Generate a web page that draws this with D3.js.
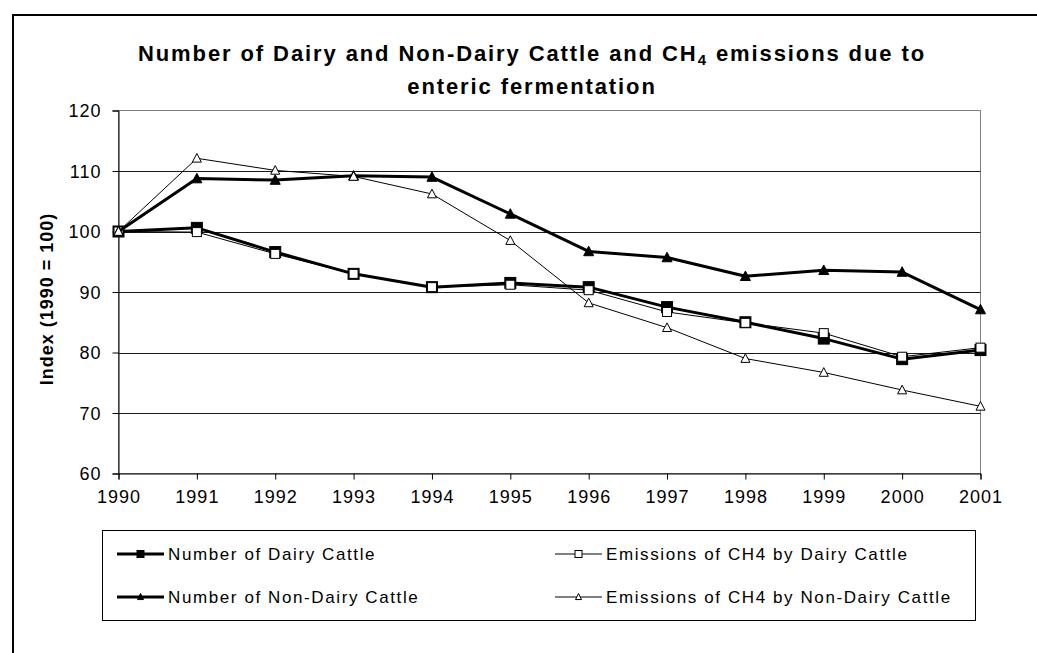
<!DOCTYPE html>
<html>
<head>
<meta charset="utf-8">
<script src="https://cdn.jsdelivr.net/npm/d3@7"></script>
<style>
  html, body { margin: 0; background: #fff; overflow: hidden; }
  svg { display: block; font-family: "Liberation Sans", Arial, sans-serif; overflow: hidden; }
</style>
</head>
<body>
<script>
// -- chart data --
var years = [1990, 1991, 1992, 1993, 1994, 1995, 1996, 1997, 1998, 1999, 2000, 2001];
var dairyNumber    = [100, 100.6, 96.6, 93.0, 90.8, 91.5, 90.8, 87.5, 85.0, 82.3, 78.9, 80.4];
var dairyEmissions = [100, 99.9, 96.3, 93.0, 90.8, 91.2, 90.3, 86.7, 84.9, 83.2, 79.3, 80.8];
var nonDairyNumber    = [100, 108.75, 108.5, 109.2, 109.0, 102.9, 96.7, 95.7, 92.6, 93.6, 93.3, 87.1];
var nonDairyEmissions = [100, 112.1, 110.1, 109.1, 106.2, 98.5, 88.2, 84.1, 79.0, 76.7, 73.8, 71.1];
var yTicks = [60, 70, 80, 90, 100, 110, 120];

var seriesNames = [
  "Number of Dairy Cattle",
  "Emissions of CH4 by Dairy Cattle",
  "Number of Non-Dairy Cattle",
  "Emissions of CH4 by Non-Dairy Cattle"
];

// series style table built from the arrays above
var series = [
  { name: seriesNames[0], values: dairyNumber,       width: 3, marker: "square",   fill: "#000" },
  { name: seriesNames[1], values: dairyEmissions,    width: 1, marker: "square",   fill: "#fff" },
  { name: seriesNames[2], values: nonDairyNumber,    width: 3, marker: "triangle", fill: "#000" },
  { name: seriesNames[3], values: nonDairyEmissions, width: 1, marker: "triangle", fill: "#fff" }
];

var W = 1037, H = 653;
var plot = { left: 118.5, right: 980.5, top: 110.5, bottom: 473.5 };

var svg = d3.select("body").append("svg")
  .attr("width", W)
  .attr("height", H);

// outer frame: only top and left edges show, the rest runs off the page
svg.append("path")
  .attr("d", "M13," + H + "V15H" + W)
  .attr("fill", "none")
  .attr("stroke", "#000")
  .attr("stroke-width", 2);

var x = d3.scalePoint().domain(years).range([plot.left, plot.right]);
var y = d3.scaleLinear().domain([60, 120]).range([plot.bottom, plot.top]);

// --- title ---
var title = svg.append("text")
  .attr("text-anchor", "middle")
  .attr("font-weight", "bold")
  .attr("font-size", 22)
  .attr("letter-spacing", 1.9);
var t1 = title.append("tspan").attr("x", 532).attr("y", 61);
t1.append("tspan").text("Number of Dairy and Non-Dairy Cattle and CH");
t1.append("tspan").attr("font-size", 15).attr("dy", 4).text("4");
t1.append("tspan").attr("dy", -4).text(" emissions due to");
title.append("tspan").attr("x", 532).attr("y", 94).text("enteric fermentation");

// --- plot area ---
svg.append("rect")
  .attr("x", plot.left).attr("y", plot.top)
  .attr("width", plot.right - plot.left)
  .attr("height", plot.bottom - plot.top)
  .attr("fill", "#fff")
  .attr("stroke", "#808080")
  .attr("stroke-width", 1);

// gridlines
svg.append("g")
  .selectAll("line")
  .data(yTicks.filter(function(d){ return d > 60 && d < 120; }))
  .enter().append("line")
    .attr("x1", plot.left).attr("x2", plot.right)
    .attr("y1", function(d){ return Math.round(y(d)) + 0.5; })
    .attr("y2", function(d){ return Math.round(y(d)) + 0.5; })
    .attr("stroke", "#1a1a1a")
    .attr("stroke-width", 1);

// axes
var yAxis = svg.append("g")
  .attr("transform", "translate(" + plot.left + ",0)")
  .call(d3.axisLeft(y).tickValues(yTicks).tickSize(6).tickPadding(11));
var xAxis = svg.append("g")
  .attr("transform", "translate(0," + plot.bottom + ")")
  .call(d3.axisBottom(x).tickSize(6).tickPadding(11));

[yAxis, xAxis].forEach(function(g){
  g.select(".domain").attr("stroke", "#000");
  g.selectAll(".tick line").attr("stroke", "#000");
  g.selectAll(".tick text")
    .attr("fill", "#000")
    .attr("font-family", "Liberation Sans, Arial, sans-serif")
    .attr("font-size", 18)
    .attr("letter-spacing", 1);
});
yAxis.selectAll(".tick text").attr("dy", "0.36em");
xAxis.selectAll(".tick text").attr("dy", "0.72em");

// y axis title
svg.append("text")
  .attr("transform", "translate(53,299) rotate(-90)")
  .attr("text-anchor", "middle")
  .attr("font-weight", "bold")
  .attr("font-size", 18)
  .attr("letter-spacing", 1)
  .text("Index (1990 = 100)");

// --- markers ---
function drawMarker(g, type, size, fill, w) {
  if (type === "square") {
    g.append("rect")
      .attr("x", -size / 2).attr("y", -size / 2)
      .attr("width", size).attr("height", size)
      .attr("fill", fill)
      .attr("stroke", "#000")
      .attr("stroke-width", w);
  } else {
    var h = size * 0.85;
    g.append("path")
      .attr("d", "M0," + (-h / 2 - 1) + "L" + (size / 2) + "," + (h / 2) + "L" + (-size / 2) + "," + (h / 2) + "Z")
      .attr("fill", fill)
      .attr("stroke", "#000")
      .attr("stroke-width", w);
  }
}

var line = d3.line()
  .x(function(d, i){ return x(years[i]); })
  .y(function(d){ return y(d); });

series.forEach(function(s){
  var g = svg.append("g");
  g.append("path")
    .datum(s.values)
    .attr("d", line)
    .attr("fill", "none")
    .attr("stroke", "#000")
    .attr("stroke-width", s.width)
    .attr("stroke-linejoin", "round");
  s.values.forEach(function(v, i){
    var m = g.append("g").attr("transform", "translate(" + x(years[i]) + "," + y(v) + ")");
    if (s.marker === "square") {
      drawMarker(m, "square", s.fill === "#000" ? 11 : 9, s.fill, 1);
    } else {
      drawMarker(m, "triangle", s.fill === "#000" ? 10 : 9, s.fill, 1);
    }
  });
});

// --- legend ---
svg.append("rect")
  .attr("x", 102.5).attr("y", 530.5)
  .attr("width", 873).attr("height", 90)
  .attr("fill", "#fff")
  .attr("stroke", "#000")
  .attr("stroke-width", 1);

var legendPos = [
  { x: 117, y: 554 },
  { x: 555, y: 554 },
  { x: 117, y: 597 },
  { x: 555, y: 597 }
];

series.forEach(function(s, i){
  var p = legendPos[i];
  var g = svg.append("g").attr("transform", "translate(" + p.x + "," + p.y + ")");
  g.append("line")
    .attr("x1", 0).attr("x2", 47)
    .attr("y1", 0).attr("y2", 0)
    .attr("stroke", "#000")
    .attr("stroke-width", s.width);
  var m = g.append("g").attr("transform", "translate(23.5,0)");
  drawMarker(m, s.marker, s.marker === "square" ? 7 : 6, s.fill, 1);
  g.append("text")
    .attr("x", 51)
    .attr("dy", "0.36em")
    .attr("font-size", 17)
    .attr("letter-spacing", 1.6)
    .text(s.name);
});
</script>
</body>
</html>
